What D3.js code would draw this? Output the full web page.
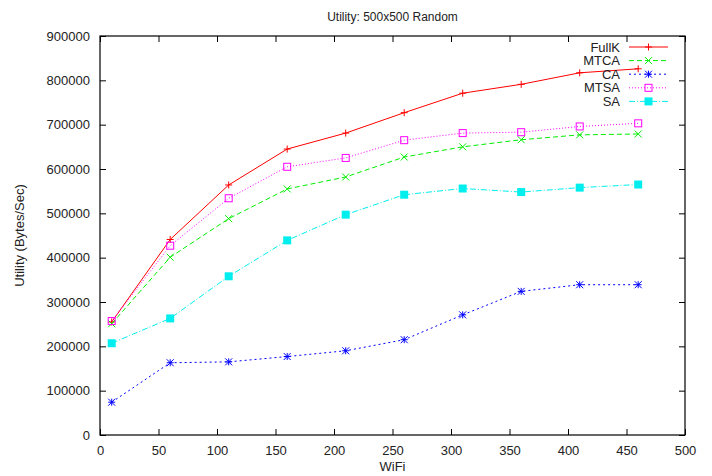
<!DOCTYPE html>
<html>
<head>
<meta charset="utf-8">
<script src="https://cdn.jsdelivr.net/npm/d3@7"></script>
<style>
  body { margin: 0; background: #fff; }
  text { font-family: "Liberation Sans", Arial, sans-serif; fill: #222; }
</style>
</head>
<body>
<div id="chart"></div>
<script>
// data
var wifi = [10, 60, 110, 160, 210, 260, 310, 360, 410, 460];
var fullK = [255000, 441000, 564000, 645000, 681000, 727000, 771000, 791000, 817000, 826000];
var mtca = [251000, 401000, 488000, 555000, 582000, 627000, 650000, 666000, 677000, 679000];
var ca = [74000, 163000, 165000, 177000, 190000, 215000, 271000, 324000, 339000, 339000];
var mtsa = [257000, 427000, 534000, 605000, 625000, 665000, 681000, 683000, 696000, 703000];
var sa = [207000, 263000, 358000, 439000, 497000, 542000, 556000, 548000, 558000, 565000];
var xTicks = [0, 50, 100, 150, 200, 250, 300, 350, 400, 450, 500];
var yTicks = [0, 100000, 200000, 300000, 400000, 500000, 600000, 700000, 800000, 900000];

var series = [
    {name: "FullK", values: fullK, color: "#ff0000", dash: null, marker: "plus"},
    {name: "MTCA", values: mtca, color: "#00ee00", dash: "5,3", marker: "cross"},
    {name: "CA", values: ca, color: "#0000ff", dash: "2,3", marker: "star"},
    {name: "MTSA", values: mtsa, color: "#ff00ff", dash: "1,2", marker: "box"},
    {name: "SA", values: sa, color: "#00eeee", dash: "6,2,1,2", marker: "fbox"}
];

var svgWidth = 712;
var svgHeight = 476;
var margin = {top: 36, right: 27, bottom: 41, left: 100};
var width = svgWidth - margin.left - margin.right;
var height = svgHeight - margin.top - margin.bottom;

var svg = d3.select("#chart")
    .append("svg")
    .attr("width", svgWidth)
    .attr("height", svgHeight);

var chartGroup = svg.append("g")
    .attr("transform", `translate(${margin.left}, ${margin.top})`);

var xScale = d3.scaleLinear().domain([0, 500]).range([0, width]);
var yScale = d3.scaleLinear().domain([0, 900000]).range([height, 0]);

// axes, ticks pointing inward like gnuplot
function styleAxis(g) {
    g.select(".domain").remove();
    g.selectAll(".tick line").attr("stroke", "#000");
    g.selectAll("text").style("font-size", "13px").attr("fill", "#222");
}

chartGroup.append("g")
    .attr("transform", `translate(0,${height})`)
    .call(d3.axisBottom(xScale).tickValues(xTicks).tickSizeInner(-6).tickSizeOuter(0).tickPadding(11))
    .call(styleAxis);

chartGroup.append("g")
    .call(d3.axisTop(xScale).tickValues(xTicks).tickSizeInner(-6).tickSizeOuter(0).tickFormat(""))
    .call(styleAxis);

chartGroup.append("g")
    .call(d3.axisLeft(yScale).tickValues(yTicks).tickSizeInner(-6).tickSizeOuter(0).tickPadding(10).tickFormat(d3.format("d")))
    .call(styleAxis);

chartGroup.append("g")
    .attr("transform", `translate(${width},0)`)
    .call(d3.axisRight(yScale).tickValues(yTicks).tickSizeInner(-6).tickSizeOuter(0).tickFormat(""))
    .call(styleAxis);

chartGroup.append("rect")
    .attr("width", width)
    .attr("height", height)
    .attr("fill", "none")
    .attr("stroke", "#000")
    .attr("stroke-width", 1.2);

// marker drawing
function drawMarker(g, type, color) {
    var s = 3.5;
    if (type === "plus" || type === "star") {
        g.append("path").attr("d", `M${-s},0H${s}M0,${-s}V${s}`).attr("stroke", color).attr("fill", "none");
    }
    if (type === "cross" || type === "star") {
        g.append("path").attr("d", `M${-s},${-s}L${s},${s}M${-s},${s}L${s},${-s}`).attr("stroke", color).attr("fill", "none");
    }
    if (type === "box") {
        g.append("rect").attr("x", -s).attr("y", -s).attr("width", 2 * s).attr("height", 2 * s)
            .attr("fill", "none").attr("stroke", color);
    }
    if (type === "fbox") {
        g.append("rect").attr("x", -s - 0.5).attr("y", -s - 0.5).attr("width", 2 * s + 1).attr("height", 2 * s + 1)
            .attr("fill", color);
    }
}

var line = d3.line()
    .x(function(d) { return xScale(d.x); })
    .y(function(d) { return yScale(d.y); });

series.forEach(function(s) {
    var pts = wifi.map(function(x, i) { return {x: x, y: s.values[i]}; });
    chartGroup.append("path")
        .datum(pts)
        .attr("d", line)
        .attr("fill", "none")
        .attr("stroke", s.color)
        .attr("stroke-width", 1)
        .attr("stroke-dasharray", s.dash);
    chartGroup.selectAll(null)
        .data(pts)
        .enter()
        .append("g")
        .attr("transform", function(d) { return `translate(${xScale(d.x)},${yScale(d.y)})`; })
        .each(function() { drawMarker(d3.select(this), s.marker, s.color); });
});

// legend
var legend = svg.append("g").attr("transform", "translate(620, 47)");
series.forEach(function(s, i) {
    var row = legend.append("g").attr("transform", `translate(0,${i * 13.6})`);
    row.append("text")
        .attr("text-anchor", "end")
        .attr("dy", "0.35em")
        .style("font-size", "13px")
        .text(s.name);
    row.append("line")
        .attr("x1", 9).attr("x2", 48)
        .attr("stroke", s.color)
        .attr("stroke-dasharray", s.dash);
    drawMarker(row.append("g").attr("transform", "translate(28.5,0)"), s.marker, s.color);
});

// titles
svg.append("text")
    .attr("x", margin.left + width / 2)
    .attr("y", 21)
    .attr("text-anchor", "middle")
    .style("font-size", "12px")
    .text("Utility: 500x500 Random");

svg.append("text")
    .attr("x", margin.left + width / 2)
    .attr("y", 471)
    .attr("text-anchor", "middle")
    .style("font-size", "13px")
    .text("WiFi");

svg.append("text")
    .attr("transform", `translate(24,${margin.top + height / 2}) rotate(-90)`)
    .attr("text-anchor", "middle")
    .style("font-size", "13px")
    .text("Utility (Bytes/Sec)");
</script>
</body>
</html>
